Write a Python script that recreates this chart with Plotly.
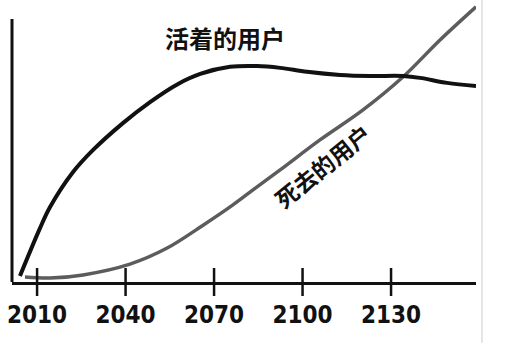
import plotly.graph_objects as go

# Living users (black curve)
alive_years = [2004.2, 2011.0, 2014.4, 2022.2, 2029.0, 2039.2, 2048.3, 2057.8, 2065.3, 2075.4,
               2084.6, 2092.4, 2101.5, 2112.7, 2122.9, 2134.1, 2139.8, 2149.0, 2158.8]
alive_users = [2.3, 20.5, 28.5, 41.8, 50.2, 60.5, 68.4, 75.3, 79.1, 81.8,
               82.1, 81.4, 79.9, 78.7, 78.3, 78.3, 77.6, 75.7, 74.5]

# Dead users (gray curve)
dead_years = [2005.9, 2014.4, 2025.6, 2041.5, 2054.1, 2065.9, 2076.4, 2083.2, 2092.4,
              2105.9, 2120.5, 2134.1, 2146.6, 2158.8]
dead_users = [1.9, 1.5, 2.7, 6.8, 12.9, 21.3, 29.3, 35.0, 42.6,
              54.0, 65.4, 78.0, 92.0, 104.6]

tick_years = [2010, 2040, 2070, 2100, 2130]
tick_labels = ["2010", "2040", "2070", "2100", "2130"]

alive_label = "活着的用户"
dead_label = "死去的用户"

fig = go.Figure()

fig.add_trace(go.Scatter(
    x=dead_years, y=dead_users, mode="lines",
    line=dict(color="#5c5c5c", width=3.5, shape="spline", smoothing=1.0),
    hoverinfo="skip", showlegend=False))

fig.add_trace(go.Scatter(
    x=alive_years, y=alive_users, mode="lines",
    line=dict(color="#111111", width=4, shape="spline", smoothing=1.0),
    hoverinfo="skip", showlegend=False))

# hand-drawn style tick marks crossing the axis
fig.add_trace(go.Scatter(
    x=tick_years, y=[0] * len(tick_years), mode="markers",
    marker=dict(symbol="line-ns", size=20, line=dict(color="#111111", width=2.5)),
    cliponaxis=False, hoverinfo="skip", showlegend=False))

fig.update_layout(
    width=506, height=356,
    margin=dict(l=12, r=30, t=5, b=74),
    paper_bgcolor="white", plot_bgcolor="white",
    xaxis=dict(range=[2001.5, 2158.8], showgrid=False, zeroline=False,
               showline=True, linecolor="#111111", linewidth=3,
               tickmode="array", tickvals=tick_years, ticktext=tick_labels,
               ticks="", ticklabelstandoff=9,
               tickfont=dict(family="DejaVu Sans Condensed, Liberation Sans Narrow, sans-serif",
                             size=24, color="#111111", weight="bold")),
    yaxis=dict(range=[0, 105.3], showgrid=False, zeroline=False,
               showline=False, showticklabels=False, ticks=""),
    shapes=[
        dict(type="line", xref="paper", yref="y", x0=0, x1=0, y0=0, y1=100,
             line=dict(color="#111111", width=3)),
        dict(type="line", xref="paper", yref="paper", x0=1.0129, x1=1.0129,
             y0=-0.22, y1=1.02, line=dict(color="#cccccc", width=1)),
    ],
    annotations=[
        dict(x=2073.7, y=92.8, xref="x", yref="y", text=alive_label, showarrow=False,
             font=dict(family="Noto Sans CJK SC", size=24, color="#111111", weight="bold"),
             xanchor="center", yanchor="middle"),
        dict(x=2106.6, y=44.1, xref="x", yref="y", text=dead_label, showarrow=False,
             textangle=-39,
             font=dict(family="Noto Sans CJK SC", size=23, color="#111111", weight="bold"),
             xanchor="center", yanchor="middle"),
    ],
)

fig.write_html("out.html")
